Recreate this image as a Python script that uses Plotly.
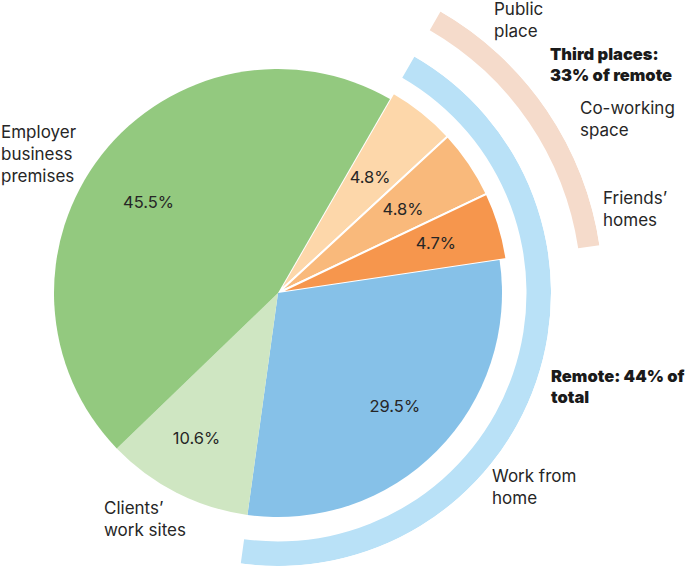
import math
import plotly.graph_objects as go

# ---- data ----
categories = ["Public place", "Co-working space", "Friends’ homes",
              "Work from home", "Clients’ work sites", "Employer business premises"]
shares = [4.8, 4.8, 4.7, 29.5, 10.6, 45.5]
pct_labels = ["4.8%", "4.8%", "4.7%", "29.5%", "10.6%", "45.5%"]
third_places = ["Public place", "Co-working space", "Friends’ homes"]
remote = third_places + ["Work from home"]
remote_total_pct = 44
third_of_remote_pct = 33

# ---- style ----
colors = ["#fdd7aa", "#f9b97b", "#f6964d", "#86c1e8", "#cfe6c2", "#93c97f"]
ARC_BLUE = "#b9e1f7"
ARC_PEACH = "#f5dbcb"
TEXT = "#262626"
FONT = "Inter"
START = 30          # angle (deg, clockwise from 12 o'clock) where first slice starts
R_MAIN, R_THIRD = 224, 231
BLUE_IN, BLUE_OUT = 248.5, 273
PEACH_IN, PEACH_OUT = 303.5, 325
W, H = 685, 566
CX, CY, RMAX = 278, 293, 240   # pixel centre of pie and radial range

# label placement (radius px, angle offset from slice middle in deg)
label_r = [146.5, 149.5, 165, 164, 168, 157]
label_dtheta = [0.3, 0.8, 0.1, -0.1, 2.1, -3.6]

total = sum(shares)
deg = [s / total * 360 for s in shares]
starts = []
acc = START
for d in deg:
    starts.append(acc)
    acc += d
mids = [s + d / 2 for s, d in zip(starts, deg)]
radii = [R_THIRD if c in third_places else R_MAIN for c in categories]
line_w = [2 if c in third_places else 0 for c in categories]


def span(group):
    idx = [categories.index(c) for c in group]
    a0 = min(starts[i] for i in idx)
    a1 = max(starts[i] + deg[i] for i in idx)
    return a0, a1


def sector_domain(a0, a1, rpx, pad=0.6):
    """Sector (math degrees) + paper domain so that the subplot centre sits at (CX, CY)
    and 1 radial unit = 1 pixel."""
    m0, m1 = 90 - a1 - pad, 90 - a0 + pad
    angs = [m0, m1] + [k * 90 for k in range(-4, 5) if m0 < k * 90 < m1]
    xs = [0] + [math.cos(math.radians(a)) for a in angs]
    ys = [0] + [math.sin(math.radians(a)) for a in angs]
    x0, x1 = CX + rpx * min(xs), CX + rpx * max(xs)
    ytop, ybot = CY - rpx * max(ys), CY - rpx * min(ys)
    dom = dict(x=[x0 / W, x1 / W], y=[1 - ybot / H, 1 - ytop / H])
    return [m0, m1], dom


fig = go.Figure()

fig.add_trace(go.Barpolar(
    r=radii, theta=mids, width=deg,
    marker=dict(color=colors, line=dict(color="white", width=line_w)),
    hoverinfo="skip", name="share", subplot="polar",
))

fig.add_trace(go.Scatterpolar(
    r=label_r, theta=[m + d for m, d in zip(mids, label_dtheta)],
    text=pct_labels, mode="text",
    textfont=dict(family=FONT, size=16.5, color=TEXT),
    cliponaxis=False, hoverinfo="skip", subplot="polar",
))

b0, b1 = span(remote)
fig.add_trace(go.Barpolar(
    r=[BLUE_OUT - BLUE_IN], base=[BLUE_IN], theta=[(b0 + b1) / 2], width=[b1 - b0],
    marker=dict(color=ARC_BLUE, line=dict(width=0)), hoverinfo="skip",
    name=f"Remote: {remote_total_pct}% of total", subplot="polar2",
))
t0, t1 = span(third_places)
fig.add_trace(go.Barpolar(
    r=[PEACH_OUT - PEACH_IN], base=[PEACH_IN], theta=[(t0 + t1) / 2], width=[t1 - t0],
    marker=dict(color=ARC_PEACH, line=dict(width=0)), hoverinfo="skip",
    name=f"Third places: {third_of_remote_pct}% of remote", subplot="polar3",
))


def px(x):
    return x / W


def py(y):
    return 1 - y / H


outer = [
    ("Public<br>place", 492, 20, False),
    (f"Third places:<br>{third_of_remote_pct}% of remote", 548, 64, True),
    ("Co-working<br>space", 578, 119, False),
    ("Friends’<br>homes", 601, 209, False),
    (f"Remote: {remote_total_pct}% of<br>total", 549, 386, True),
    ("Work from<br>home", 490, 487, False),
    ("Clients’<br>work sites", 102, 519, False),
    ("Employer<br>business<br>premises", -1, 154, False),
]
for txt, x, y, bold in outer:
    fig.add_annotation(
        text=txt, x=px(x), y=py(y), xref="paper", yref="paper",
        xanchor="left", yanchor="middle", align="left", showarrow=False,
        font=dict(family=FONT, size=16.5 if bold else 17,
                  color="#1a1a1a" if bold else TEXT,
                  weight=900 if bold else 400),
    )

hidden_ang = dict(rotation=90, direction="clockwise", visible=False,
                  showgrid=False, showline=False, ticks="")

sec2, dom2 = sector_domain(b0, b1, BLUE_OUT)
sec3, dom3 = sector_domain(t0, t1, PEACH_OUT)

fig.update_layout(
    width=W, height=H, margin=dict(l=0, r=0, t=0, b=0),
    paper_bgcolor="white", plot_bgcolor="white", showlegend=False,
    polar=dict(
        domain=dict(x=[(CX - RMAX) / W, (CX + RMAX) / W],
                    y=[(H - CY - RMAX) / H, (H - CY + RMAX) / H]),
        bgcolor="rgba(0,0,0,0)", bargap=0,
        radialaxis=dict(range=[0, RMAX], visible=False),
        angularaxis=hidden_ang,
    ),
    polar2=dict(
        domain=dom2, sector=sec2,
        bgcolor="rgba(0,0,0,0)", bargap=0,
        radialaxis=dict(range=[0, BLUE_OUT], visible=False),
        angularaxis=hidden_ang,
    ),
    polar3=dict(
        domain=dom3, sector=sec3,
        bgcolor="rgba(0,0,0,0)", bargap=0,
        radialaxis=dict(range=[0, PEACH_OUT], visible=False),
        angularaxis=hidden_ang,
    ),
)

fig.write_html("out.html", config={"displayModeBar": False},
               post_script="document.body.style.margin='0px';"
                           "document.body.style.overflow='hidden';")
